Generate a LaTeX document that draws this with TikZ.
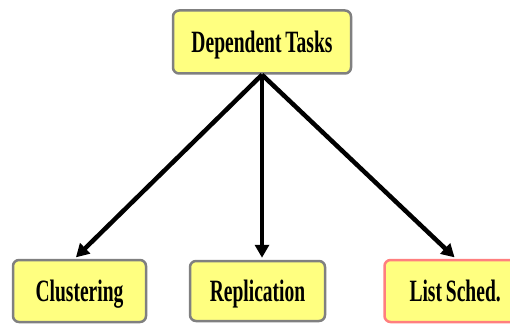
\documentclass[tikz,border=0pt]{standalone}
\usepackage{fontspec}
\newfontfamily\condfont[FakeStretch=0.63,WordSpace=0.8]{Liberation Serif}
\usetikzlibrary{arrows.meta}
\definecolor{boxfill}{HTML}{FFFF80}
\definecolor{boxline}{HTML}{808080}
\definecolor{redline}{HTML}{FF7F7F}
\tikzset{
  box/.style={draw=boxline, line width=2.5pt, fill=boxfill, rounded corners=6pt,
    font=\condfont\bfseries\fontsize{31}{31}\selectfont, inner sep=0pt, text depth=0pt},
  redbox/.style={box, draw=redline},
  conn/.style={line width=4.5pt, -{Triangle[length=13pt,width=14pt]}, shorten >=2pt},
}
\begin{document}
\begin{tikzpicture}[x=1pt,y=1pt]
\useasboundingbox (0,0) rectangle (510,327);
\clip (0,0) rectangle (510,327);
\node[box, minimum width=178pt, minimum height=63pt] (dep) at (262,285) {Dependent Tasks};
\node[box, minimum width=133pt, minimum height=62pt] (clu) at (79.5,36) {Clustering};
\node[box, minimum width=135pt, minimum height=60pt] (rep) at (257.5,36) {Replication};
\node[redbox, minimum width=135pt, minimum height=62pt] (lis) at (452,36) {\makebox[127pt][l]{\hspace*{21pt}List Sched.}};
\draw[conn] (dep.south) -- ([xshift=-5pt]clu.north);
\draw[conn] (dep.south) -- (dep.south |- rep.north);
\draw[conn] (dep.south) -- ([xshift=4pt]lis.north);
\end{tikzpicture}
\end{document}
